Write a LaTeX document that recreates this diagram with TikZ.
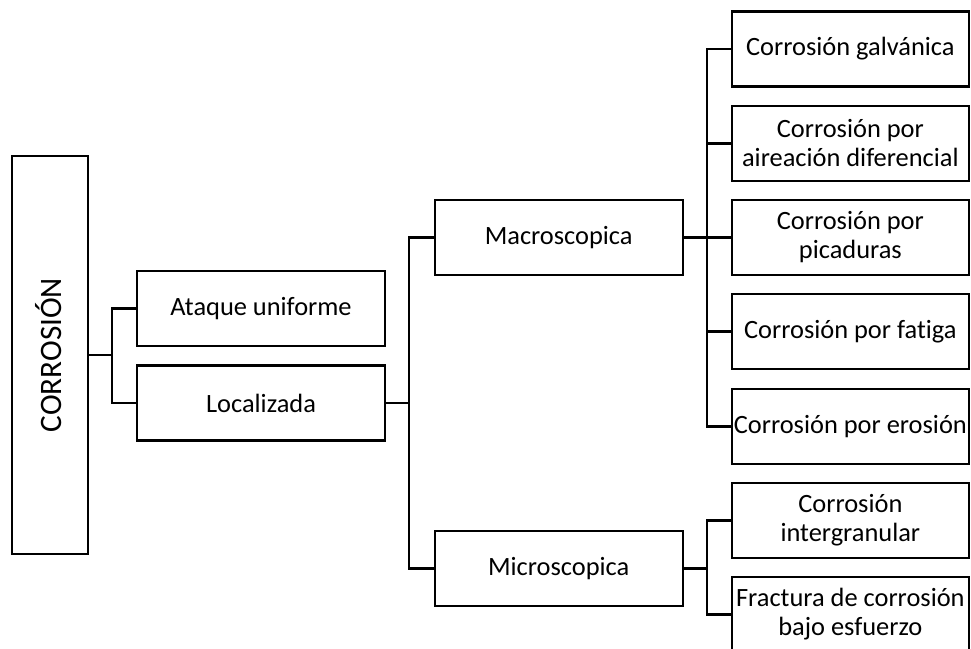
\documentclass[tikz,border=0pt]{standalone}
\usepackage{fontspec}
\setmainfont[Ligatures=NoCommon]{Carlito}
\begin{document}
\begin{tikzpicture}[x=0.75pt,y=-0.75pt,
  box/.style={draw, line width=1.7pt, inner sep=0pt, align=center,
    font=\fontsize{19.8}{21.75}\selectfont, minimum height=56.25pt},
  midbox/.style={box, minimum width=186pt},
  leafbox/.style={box, minimum width=178pt},
  link/.style={line width=1.7pt}]
\useasboundingbox (0,0) rectangle (971,649);

% root
\node[draw, line width=1.7pt, minimum width=57pt, minimum height=298.5pt] (corr) at (50,355) {};
\node[rotate=90, font=\fontsize{23.4}{26}\selectfont] (corrlabel) at ([xshift=-0.75pt]corr.center) {CORROSIÓN};

% second and third levels
\node[midbox] (ataque) at (261,308.5) {Ataque uniforme};
\node[midbox] (local) at (261,403) {Localizada};
\node[midbox] (macro) at (558.7,237.5) {Macroscopica};
\node[midbox] (micro) at (558.7,568.5) {Microscopica};

% leaves
\node[leafbox] (galv) at (850.35,49) {Corrosión galvánica};
\node[leafbox] (aire) at (850.35,143.5) {Corrosión por\\aireación diferencial};
\node[leafbox] (pic) at (850.35,237.5) {Corrosión por\\picaduras};
\node[leafbox] (fat) at (850.35,331.5) {Corrosión por fatiga};
\node[leafbox] (eros) at (850.35,426.5) {Corrosión por erosión};
\node[leafbox] (inter) at (850.35,520.5) {Corrosión\\intergranular};
\node[leafbox] (fract) at (850.35,614.5) {Fractura de corrosión\\bajo esfuerzo};

% bracket connectors
\draw[link] (corr.east) -- ++(23,0) coordinate (j1);
\draw[link] (ataque.west) -| (j1) |- (local.west);

\draw[link] (local.east) -- ++(23,0) coordinate (j2);
\draw[link] (macro.west) -| (j2) |- (micro.west);

\draw[link] (macro.east) -- ++(23,0) coordinate (j3);
\draw[link] (galv.west) -| (j3) |- (eros.west);
\foreach \n in {aire,pic,fat} \draw[link] (\n.west) -- (\n.west -| j3);

\draw[link] (micro.east) -- ++(23,0) coordinate (j4);
\draw[link] (inter.west) -| (j4) |- (fract.west);
\end{tikzpicture}
\end{document}
